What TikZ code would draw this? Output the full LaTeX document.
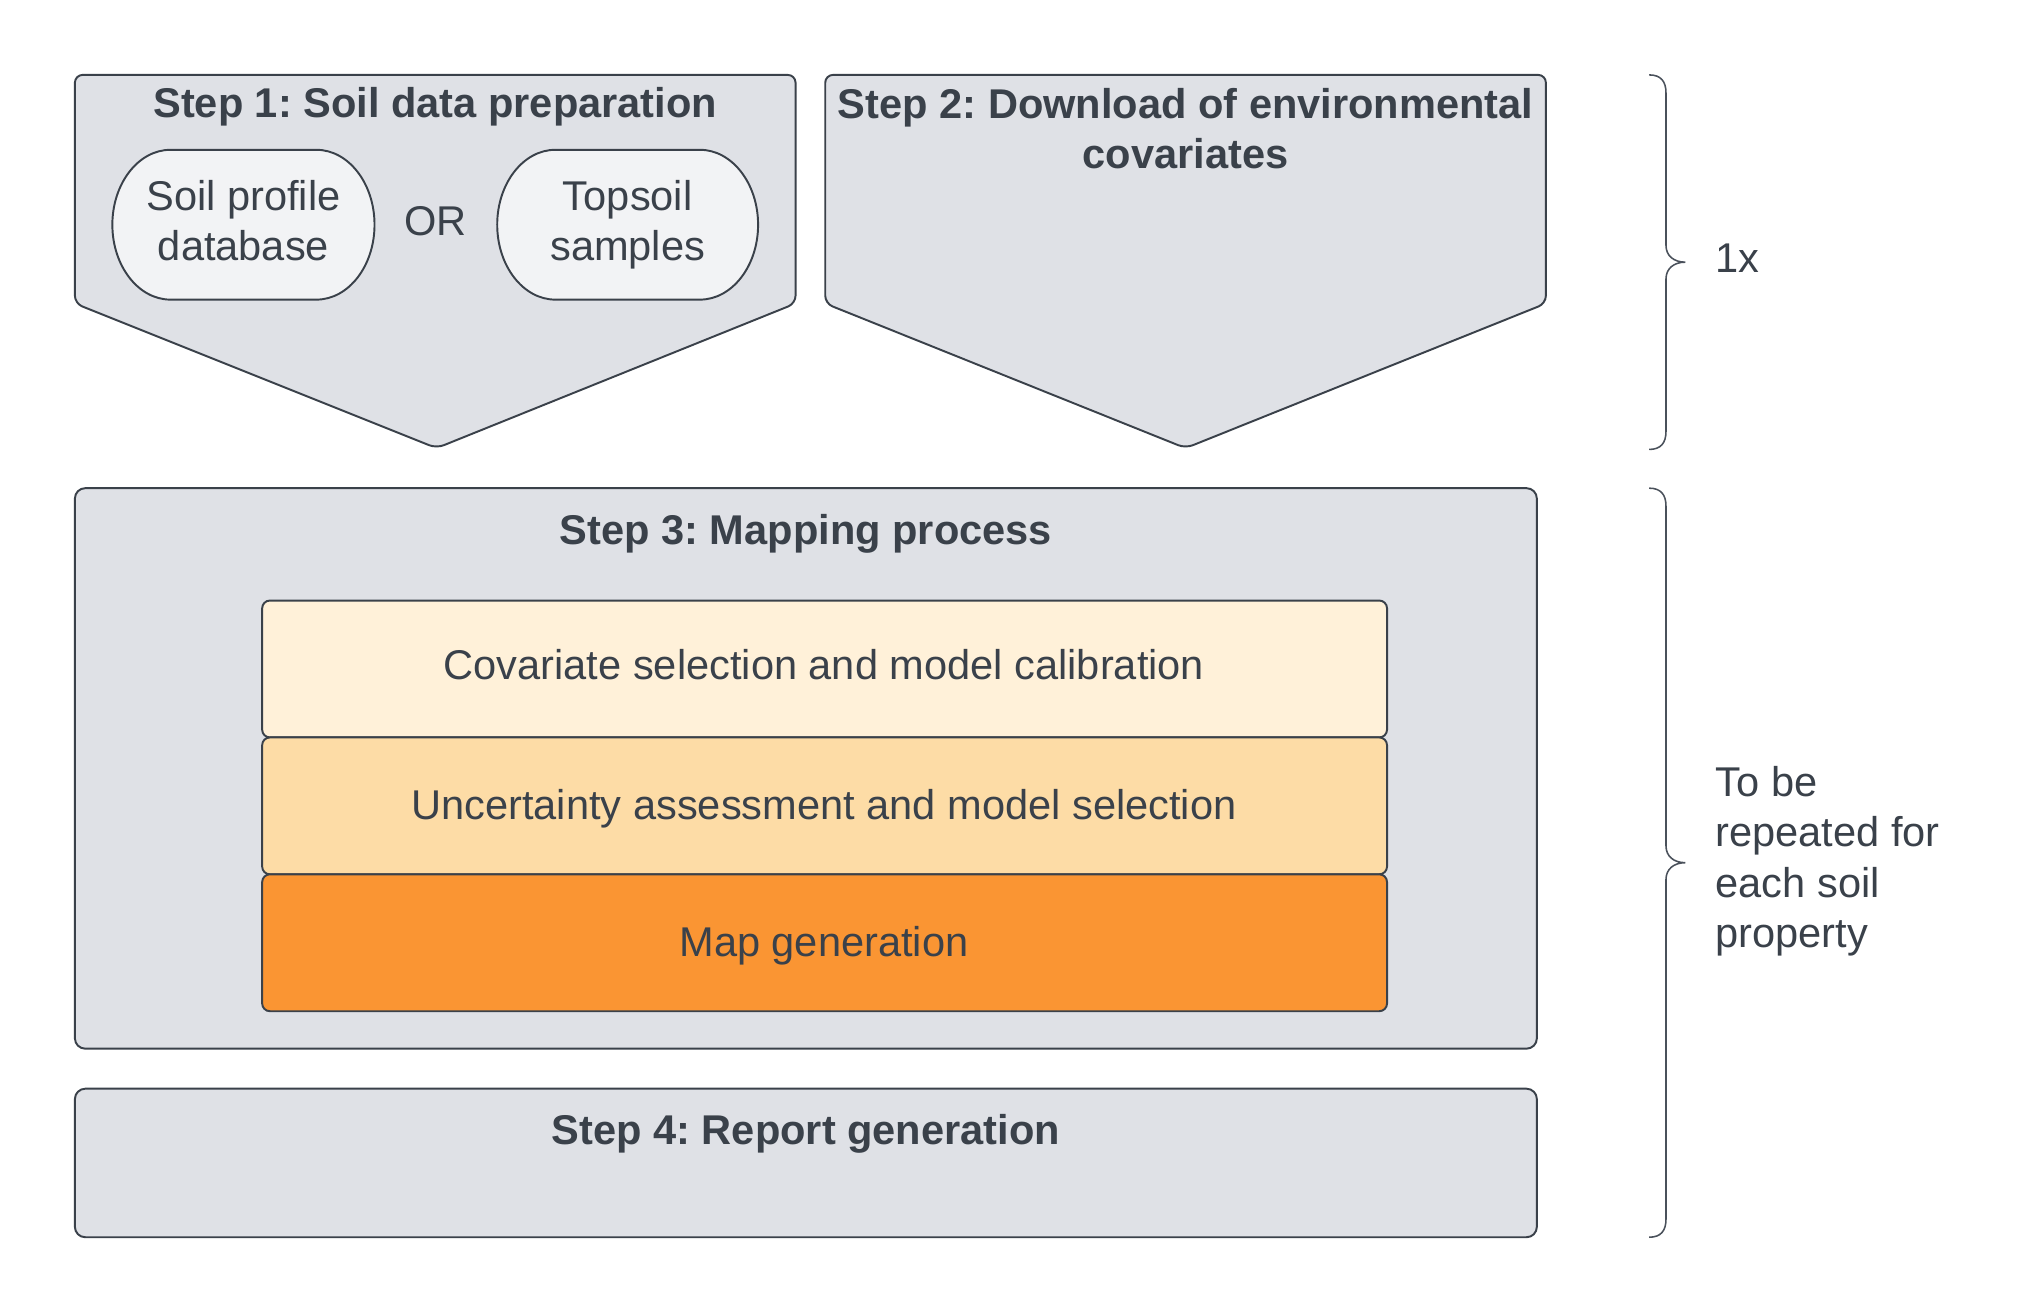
\documentclass[tikz,border=0pt]{standalone}
\usepackage{fontspec}
\setmainfont{Liberation Sans}
\frenchspacing
\definecolor{boxgray}{HTML}{DFE1E6}
\definecolor{ovalfill}{HTML}{F2F3F5}
\definecolor{cream}{HTML}{FFF1D9}
\definecolor{lightorange}{HTML}{FDDCA6}
\definecolor{deeporange}{HTML}{FA9533}
\definecolor{ink}{HTML}{3A414A}
\definecolor{bracecol}{HTML}{4A515B}
\tikzset{
  shapeline/.style={draw=ink, line width=0.75pt},
  titletext/.style={font=\fontsize{16.1}{19.5}\selectfont\bfseries, text=ink, align=center, inner sep=0pt},
  plaintext/.style={font=\fontsize{16.1}{19.5}\selectfont, text=ink, align=center, inner sep=0pt},
  sidetext/.style={font=\fontsize{16.1}{19.5}\selectfont, text=ink, align=left, anchor=west, inner sep=0pt},
  bracestyle/.style={draw=bracecol, line width=0.6pt},
}
\begin{document}
\begin{tikzpicture}[x=0.5pt, y=-0.5pt]
\useasboundingbox (0,0) rectangle (1568,1016.7);
% Step 1 pentagon
\draw[shapeline, fill=boxgray, rounded corners=3pt]
  (58,58) -- (616,58) -- (616,235) -- (338,347) -- (58,235) -- cycle;
\node[titletext] (s1) at (337,83) {Step 1: Soil data preparation};
% ovals
\draw[shapeline, fill=ovalfill]
  (132,116) -- (245,116) .. controls (269.8,116) and (290,142) .. (290,174)
  .. controls (290,206) and (269.8,232) .. (245,232) -- (132,232)
  .. controls (107.2,232) and (87,206) .. (87,174)
  .. controls (87,142) and (107.2,116) .. (132,116) -- cycle;
\node[plaintext] (sp) at (188.5,171) {Soil profile\\database};
\draw[shapeline, fill=ovalfill]
  (430,116) -- (542,116) .. controls (566.8,116) and (587,142) .. (587,174)
  .. controls (587,206) and (566.8,232) .. (542,232) -- (430,232)
  .. controls (405.2,232) and (385,206) .. (385,174)
  .. controls (385,142) and (405.2,116) .. (430,116) -- cycle;
\node[plaintext] (ts) at (486,174) {Topsoil\\samples};
\node[plaintext] (or) at (337,171) {OR};
% Step 2 pentagon
\draw[shapeline, fill=boxgray, rounded corners=3pt]
  (639,58) -- (1197,58) -- (1197,235) -- (918,347) -- (639,235) -- cycle;
\node[titletext] (s2) at (918,99.5) {Step 2: Download of environmental\\covariates};
% Step 3 box
\draw[shapeline, fill=boxgray, rounded corners=4pt] (58,378) rectangle (1190,812);
\node[titletext] (s3) at (624,413) {Step 3: Mapping process};
\draw[shapeline, fill=cream, rounded corners=3pt] (203,465) rectangle (1074,571);
\node[plaintext] (b1) at (638,515) {Covariate selection and model calibration};
\draw[shapeline, fill=lightorange, rounded corners=3pt] (203,571) rectangle (1074,677);
\node[plaintext] (b2) at (638,626) {Uncertainty assessment and model selection};
\draw[shapeline, fill=deeporange, rounded corners=3pt] (203,677) rectangle (1074,783);
\node[plaintext] (b3) at (638,732) {Map generation};
% Step 4 box
\draw[shapeline, fill=boxgray, rounded corners=4pt] (58,843) rectangle (1190,958);
\node[titletext] (s4) at (624,878) {Step 4: Report generation};
% braces
\draw[bracestyle]
  (1277,58) .. controls (1286,58) and (1290,63) .. (1290,72)
  -- (1290,190) .. controls (1290,198) and (1296,203) .. (1305,203)
  .. controls (1296,203) and (1290,208) .. (1290,216)
  -- (1290,334) .. controls (1290,343) and (1286,348) .. (1277,348);
\node[sidetext] (once) at (1328,200) {1x};
\draw[bracestyle]
  (1277,378) .. controls (1286,378) and (1290,383) .. (1290,392)
  -- (1290,655) .. controls (1290,663) and (1296,668) .. (1305,668)
  .. controls (1296,668) and (1290,673) .. (1290,681)
  -- (1290,944) .. controls (1290,953) and (1286,958) .. (1277,958);
\node[sidetext] (rep) at (1328,667) {To be\\repeated for\\each soil\\property};
\end{tikzpicture}
\end{document}
